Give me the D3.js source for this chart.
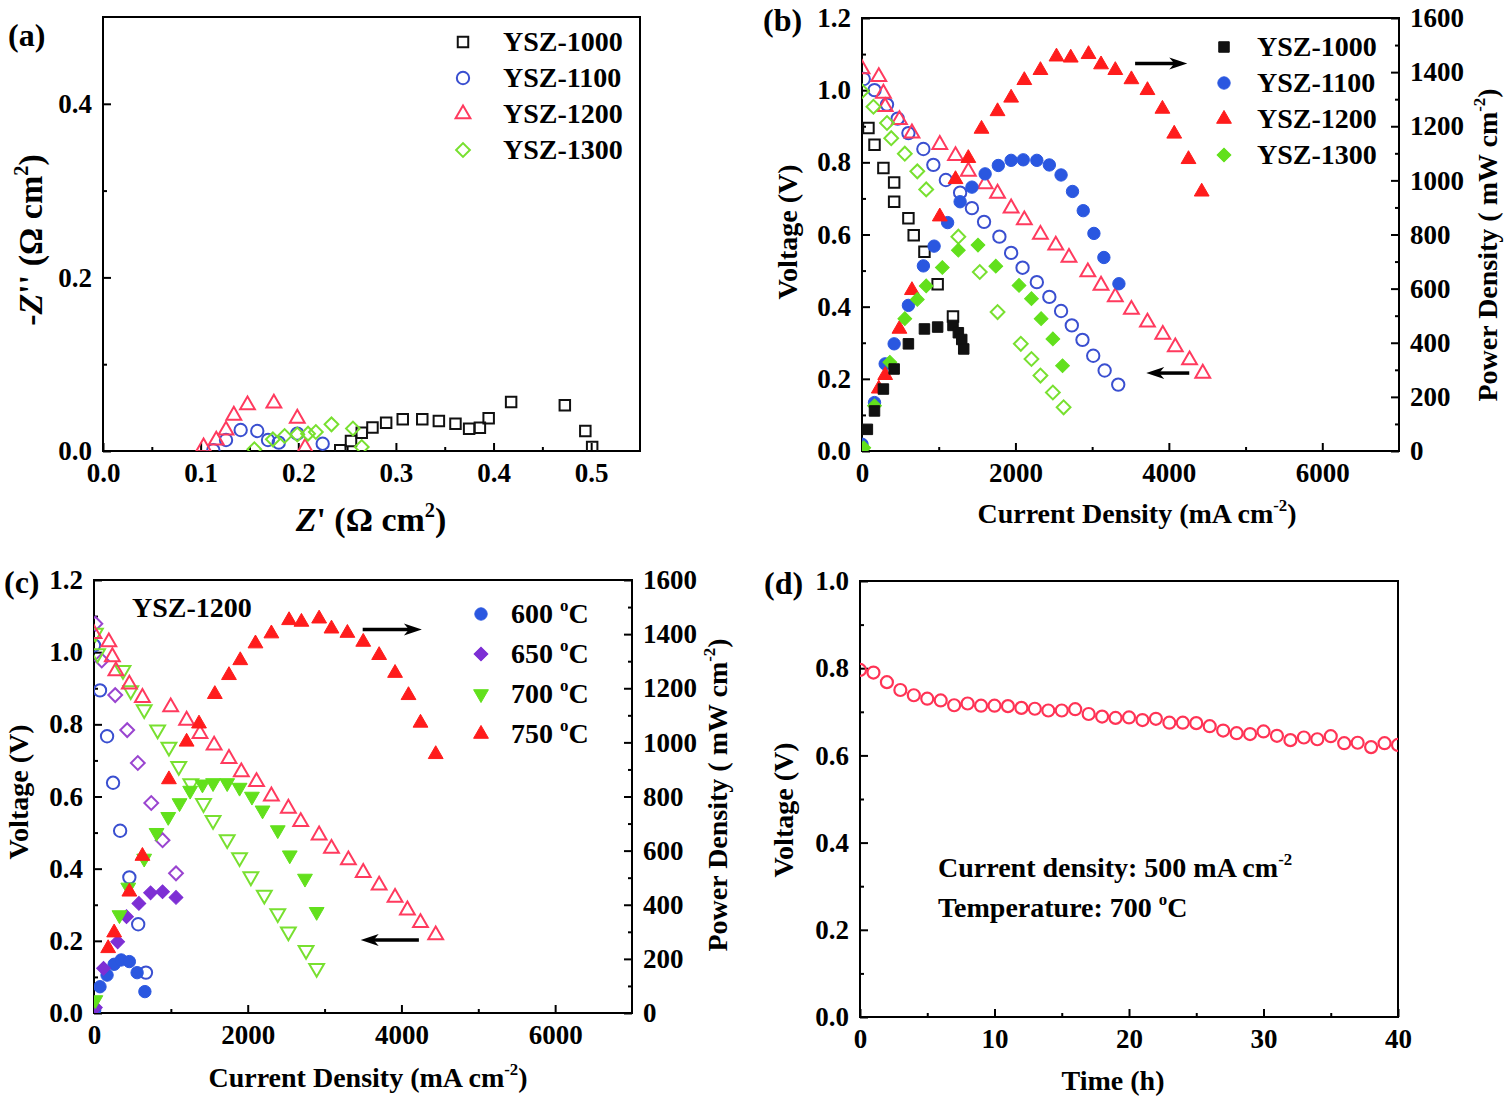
<!DOCTYPE html>
<html><head><meta charset="utf-8">
<script src="https://cdn.jsdelivr.net/npm/d3@7"></script>
<style>
body{margin:0;background:#fff}
svg text{font-family:"Liberation Serif","Times New Roman",serif;font-weight:bold;fill:#000}
</style></head><body>
<svg id="c" width="1506" height="1107" xmlns="http://www.w3.org/2000/svg"></svg>
<script>
// ---------------- Panel (a): impedance spectra ----------------
const a1000Re = [0.243,0.254,0.265,0.276,0.290,0.307,0.327,0.344,0.361,0.375,0.386,0.395,0.418,0.473,0.494,0.501];
const a1000Im = [0.001,0.0115,0.021,0.027,0.0326,0.0365,0.0365,0.0346,0.0315,0.0257,0.0269,0.0376,0.0565,0.0526,0.023,0.0046];
const a1100Re = [0.113,0.126,0.141,0.158,0.169,0.180,0.199,0.225];
const a1100Im = [0.001,0.0127,0.0242,0.023,0.0127,0.0096,0.020,0.0084];
const a1200Re = [0.103,0.116,0.126,0.134,0.148,0.175,0.199,0.207];
const a1200Im = [0.0046,0.0123,0.0238,0.041,0.053,0.055,0.0376,0.004];
const a1300Re = [0.155,0.174,0.186,0.199,0.210,0.218,0.234,0.256,0.265];
const a1300Im = [0.002,0.0134,0.0173,0.019,0.020,0.0219,0.0307,0.026,0.0046];
const aXTicks = [0,0.1,0.2,0.3,0.4,0.5];
const aYTicks = [0,0.2,0.4];
const aLegend = ["YSZ-1000","YSZ-1100","YSZ-1200","YSZ-1300"];

// ---------------- Panel (b): I-V-P of four cells ----------------
const b1000VI = [84,163,279,419,419,605,674,814,986,1186];
const b1000V  = [0.895,0.849,0.784,0.744,0.691,0.645,0.598,0.552,0.462,0.373];
const b1000PI = [70,163,279,419,605,814,986,1186,1256,1300,1326];
const b1000P  = [80,148,229,303,396,451,458,464,437,412,377];
const b1100VI = [23,163,326,465,605,800,930,1093,1279,1433,1591,1791,1944,2093,2279,2442,2595,2735,2874,3014,3163,3340];
const b1100V  = [1.031,1.000,0.960,0.921,0.881,0.837,0.793,0.751,0.716,0.673,0.635,0.594,0.549,0.508,0.468,0.427,0.388,0.348,0.308,0.264,0.223,0.184];
const b1100PI = [0,163,302,419,605,800,940,1116,1279,1433,1605,1777,1944,2102,2279,2442,2595,2744,2884,3023,3153,3349];
const b1100P  = [25,179,322,396,538,684,757,844,921,975,1024,1055,1074,1076,1074,1057,1020,959,888,804,715,618];
const b1200VI = [0,219,279,302,488,651,1014,1219,1386,1605,1767,1944,2116,2326,2526,2698,2944,3116,3302,3512,3721,3921,4084,4270,4442];
const b1200V  = [1.059,1.037,0.991,0.954,0.918,0.881,0.849,0.818,0.775,0.740,0.714,0.673,0.640,0.600,0.570,0.536,0.496,0.459,0.427,0.392,0.357,0.323,0.288,0.252,0.215];
const b1200PI = [219,302,488,651,1014,1219,1386,1558,1767,1944,2116,2326,2535,2721,2953,3116,3302,3512,3721,3916,4070,4256,4428];
const b1200P  = [230,280,451,594,866,1004,1082,1190,1255,1305,1370,1407,1457,1453,1466,1428,1407,1373,1333,1264,1172,1078,958];
const b1300VI = [0,149,326,381,558,721,837,1256,1535,1767,2070,2209,2326,2488,2628];
const b1300V  = [0.997,0.954,0.909,0.867,0.824,0.775,0.725,0.594,0.496,0.385,0.297,0.255,0.209,0.162,0.121];
const b1300PI = [23,163,363,558,721,837,1047,1256,1512,1744,2047,2209,2335,2488,2614];
const b1300P  = [12,167,328,489,560,610,678,742,761,683,612,563,489,414,315];
const bcXTicks = [0,2000,4000,6000];
const bcVTicks = [0,0.2,0.4,0.6,0.8,1.0,1.2];
const bcPTicks = [0,200,400,600,800,1000,1200,1400,1600];

// ---------------- Panel (c): YSZ-1200 at four temperatures ----------------
const c600VI = [0,78,170,248,340,460,575,676];
const c600V  = [1.019,0.894,0.767,0.638,0.505,0.376,0.246,0.112];
const c600PI = [9,78,170,262,354,460,561,662];
const c600P  = [11,97,140,180,196,190,149,79];
const c650VI = [18,101,276,432,570,745,892,1067];
const c650V  = [1.079,0.977,0.881,0.784,0.693,0.582,0.479,0.387];
const c650PI = [18,124,308,423,584,736,892,1067];
const c650P  = [20,165,263,356,405,444,448,427];
const c700VI = [18,46,377,478,653,828,975,1103,1260,1425,1549,1733,1894,2041,2216,2391,2529,2759,2897];
const c700V  = [1.053,0.996,0.950,0.894,0.841,0.785,0.737,0.684,0.636,0.581,0.534,0.481,0.431,0.378,0.327,0.276,0.225,0.174,0.124];
const c700PI = [18,331,446,653,814,966,1113,1251,1411,1549,1733,1894,2055,2193,2391,2547,2745,2897];
const c700P  = [48,362,464,571,666,725,776,822,845,850,850,833,800,749,676,583,497,374];
const c750VI = [0,193,239,285,460,630,998,1205,1379,1563,1756,1917,2115,2308,2529,2690,2929,3090,3310,3503,3710,3917,4078,4248,4446];
const c750V  = [1.051,1.028,0.987,0.948,0.911,0.874,0.848,0.811,0.774,0.742,0.705,0.668,0.641,0.601,0.567,0.530,0.493,0.456,0.424,0.389,0.354,0.320,0.285,0.250,0.216];
const c750PI = [184,262,460,630,975,1205,1366,1572,1756,1903,2101,2308,2538,2699,2929,3090,3297,3503,3710,3917,4092,4248,4446];
const c750P  = [239,297,448,580,863,1002,1069,1178,1248,1303,1365,1402,1451,1445,1457,1420,1404,1371,1322,1256,1174,1072,956];
const cLegend = ["600","650","700","750"];

// ---------------- Panel (d): stability test ----------------
const dTime = [0,1,2,3,4,5,6,7,8,9,10,11,12,13,14,15,16,17,18,19,20,21,22,23,24,25,26,27,28,29,30,31,32,33,34,35,36,37,38,39,40];
const dVolt = [0.796,0.790,0.768,0.750,0.738,0.730,0.726,0.715,0.719,0.714,0.714,0.713,0.709,0.707,0.703,0.703,0.706,0.695,0.689,0.686,0.687,0.681,0.684,0.675,0.675,0.674,0.667,0.657,0.651,0.649,0.655,0.645,0.635,0.641,0.637,0.644,0.628,0.629,0.619,0.628,0.624];
const dXTicks = [0,10,20,30,40];
const dYTicks = [0,0.2,0.4,0.6,0.8,1.0];

// ---------------- drawing ----------------
const svg = d3.select('#c');
const FONT = '"Liberation Serif","Times New Roman",serif';
const TICKFS = 27, TITLEFS = 28;
const COL = {black:'#111', blue:'#2a57e0', blueO:'#3a4fd0', red:'#ff1c1c', redO:'#ff3a5e',
             green:'#62e01c', greenO:'#78e030', purple:'#7d2fd4', purpleO:'#9a45d0', pink:'#ff3355'};

// parts: plain strings, {it:'...'} for italic, {up:'...'} for superscript
function rich(g, x, y, parts, o) {
  o = o || {};
  const fs = o.fs || TITLEFS;
  const t = g.append('text').attr('font-size', fs).attr('text-anchor', o.anchor || 'start');
  if (o.rotate) t.attr('transform', `translate(${x},${y}) rotate(-90)`).attr('dy', '0.35em');
  else t.attr('x', x).attr('y', y);
  let restore = 0;
  parts.forEach(p => {
    if (typeof p === 'string') {
      const s = t.append('tspan').text(p);
      if (restore) { s.attr('dy', restore); restore = 0; }
    } else if (p.up !== undefined) {
      t.append('tspan').attr('font-size', fs * 0.6).attr('dy', -fs * 0.42).text(p.up);
      restore = fs * 0.42;
    } else if (p.it !== undefined) {
      const s = t.append('tspan').attr('font-style', 'italic').text(p.it);
      if (restore) { s.attr('dy', restore); restore = 0; }
    }
  });
  return t;
}

function styleAxis(g) {
  g.select('.domain').remove();
  g.selectAll('line').attr('stroke', '#000').attr('stroke-width', 2);
  g.selectAll('text').attr('font-size', TICKFS).attr('font-family', FONT)
    .attr('font-weight', 'bold').attr('fill', '#000');
}

function panel(id, f, xd, yd, xTicks, xMinor, xFmt, yTicks, yMinor, yFmt, y2d, y2Ticks, y2Minor) {
  const g = svg.append('g');
  const x = d3.scaleLinear().domain(xd).range([f.x0, f.x1]);
  const y = d3.scaleLinear().domain(yd).range([f.y1, f.y0]);
  const y2 = y2d ? d3.scaleLinear().domain(y2d).range([f.y1, f.y0]) : null;
  g.append('clipPath').attr('id', 'clip' + id).append('rect')
    .attr('x', f.x0).attr('y', f.y0).attr('width', f.x1 - f.x0).attr('height', f.y1 - f.y0);
  const bx = g.append('g').attr('transform', `translate(0,${f.y1})`);
  bx.append('g').call(d3.axisBottom(x).tickValues(xTicks).tickFormat(xFmt).tickSizeInner(-8).tickSizeOuter(0).tickPadding(12)).call(styleAxis);
  bx.append('g').call(d3.axisBottom(x).tickValues(xMinor).tickFormat(() => '').tickSizeInner(-4).tickSizeOuter(0)).call(styleAxis);
  const ly = g.append('g').attr('transform', `translate(${f.x0},0)`);
  ly.append('g').call(d3.axisLeft(y).tickValues(yTicks).tickFormat(yFmt).tickSizeInner(-8).tickSizeOuter(0).tickPadding(11)).call(styleAxis);
  ly.append('g').call(d3.axisLeft(y).tickValues(yMinor).tickFormat(() => '').tickSizeInner(-4).tickSizeOuter(0)).call(styleAxis);
  if (y2) {
    const ry = g.append('g').attr('transform', `translate(${f.x1},0)`);
    ry.append('g').call(d3.axisRight(y2).tickValues(y2Ticks).tickFormat(d3.format('d')).tickSizeInner(-8).tickSizeOuter(0).tickPadding(11)).call(styleAxis);
    ry.append('g').call(d3.axisRight(y2).tickValues(y2Minor).tickFormat(() => '').tickSizeInner(-4).tickSizeOuter(0)).call(styleAxis);
  }
  // remove empty minor-tick label nodes
  g.selectAll('.tick text').filter(function () { return !this.textContent; }).remove();
  g.append('rect').attr('x', f.x0).attr('y', f.y0).attr('width', f.x1 - f.x0).attr('height', f.y1 - f.y0)
    .attr('fill', 'none').attr('stroke', '#000').attr('stroke-width', 2);
  const plot = g.append('g').attr('clip-path', `url(#clip${id})`);
  return {g, x, y, y2, plot};
}

const SHAPES = {
  square: {type: d3.symbolSquare, size: 110, rot: 0},
  circle: {type: d3.symbolCircle, size: 120, rot: 0},
  tri:    {type: d3.symbolTriangle, size: 95, rot: 0},
  dtri:   {type: d3.symbolTriangle, size: 95, rot: 180},
  diamond:{type: d3.symbolSquare, size: 95, rot: 45}
};
function symPath(shape) { return d3.symbol().type(SHAPES[shape].type).size(SHAPES[shape].size)(); }

function marks(layer, xs, ys, xs_, ys_, shape, color, open) {
  const pts = xs.map((v, i) => [v, ys[i]]);
  layer.append('g').selectAll('path').data(pts).join('path')
    .attr('d', symPath(shape))
    .attr('transform', d => `translate(${xs_(d[0])},${ys_(d[1])}) rotate(${SHAPES[shape].rot})`)
    .attr('fill', open ? 'none' : color)
    .attr('stroke', color)
    .attr('stroke-width', open ? 2 : 1);
}
function legendSym(g, cx, cy, shape, color, open) {
  g.append('path').attr('d', symPath(shape))
    .attr('transform', `translate(${cx},${cy}) rotate(${SHAPES[shape].rot})`)
    .attr('fill', open ? 'none' : color).attr('stroke', color).attr('stroke-width', open ? 2 : 1);
}
function arrow(g, xa, xb, yy) {
  const dir = xb > xa ? 1 : -1;
  g.append('line').attr('x1', xa).attr('x2', xb - dir * 12).attr('y1', yy).attr('y2', yy)
    .attr('stroke', '#000').attr('stroke-width', 3.5);
  g.append('path').attr('d', `M${xb},${yy} L${xb - dir * 18},${yy - 6} L${xb - dir * 13},${yy} L${xb - dir * 18},${yy + 6} Z`)
    .attr('fill', '#000');
}
const f1 = d3.format('.1f');

// ----- (a)
{
  const P = panel('a', {x0: 103, x1: 640, y0: 17, y1: 451}, [0, 0.55], [0, 0.5],
    aXTicks, [0.05, 0.15, 0.25, 0.35, 0.45], f1, aYTicks, [0.1, 0.3], f1);
  marks(P.plot, a1000Re, a1000Im, P.x, P.y, 'square', COL.black, true);
  marks(P.plot, a1100Re, a1100Im, P.x, P.y, 'circle', COL.blueO, true);
  marks(P.plot, a1200Re, a1200Im, P.x, P.y, 'tri', COL.redO, true);
  marks(P.plot, a1300Re, a1300Im, P.x, P.y, 'diamond', COL.greenO, true);
  const shapes = ['square', 'circle', 'tri', 'diamond'];
  const cols = [COL.black, COL.blueO, COL.redO, COL.greenO];
  aLegend.forEach((s, i) => {
    legendSym(P.g, 463, 42 + 36 * i, shapes[i], cols[i], true);
    rich(P.g, 503, 42 + 36 * i + 9, [s], {fs: 28});
  });
  rich(P.g, 371, 531, [{it: 'Z'}, "' (\u03A9 cm", {up: '2'}, ')'], {anchor: 'middle', fs: 34});
  rich(P.g, 30, 240, ['-', {it: 'Z'}, "'' (\u03A9 cm", {up: '2'}, ')'], {anchor: 'middle', rotate: true, fs: 34});
  rich(P.g, 8, 46, ['(a)'], {fs: 32});
}

// ----- (b)
{
  const P = panel('b', {x0: 862, x1: 1399, y0: 18, y1: 451}, [0, 7000], [0, 1.2],
    bcXTicks, [1000, 3000, 5000], d3.format('d'), bcVTicks, [0.1, 0.3, 0.5, 0.7, 0.9, 1.1], f1,
    [0, 1600], bcPTicks, [100, 300, 500, 700, 900, 1100, 1300, 1500]);
  marks(P.plot, b1000VI, b1000V, P.x, P.y, 'square', COL.black, true);
  marks(P.plot, b1100VI, b1100V, P.x, P.y, 'circle', COL.blueO, true);
  marks(P.plot, b1200VI, b1200V, P.x, P.y, 'tri', COL.redO, true);
  marks(P.plot, b1300VI, b1300V, P.x, P.y, 'diamond', COL.greenO, true);
  marks(P.plot, b1100PI, b1100P, P.x, P.y2, 'circle', COL.blue, false);
  marks(P.plot, b1200PI, b1200P, P.x, P.y2, 'tri', COL.red, false);
  marks(P.plot, b1300PI, b1300P, P.x, P.y2, 'diamond', COL.green, false);
  marks(P.plot, b1000PI, b1000P, P.x, P.y2, 'square', COL.black, false);
  arrow(P.g, P.x(3560), P.x(4240), P.y2(1432));
  arrow(P.g, P.x(4266), P.x(3705), P.y(0.216));
  const shapes = ['square', 'circle', 'tri', 'diamond'];
  const cols = [COL.black, COL.blue, COL.red, COL.green];
  aLegend.forEach((s, i) => {
    legendSym(P.g, 1224, 47 + 36 * i, shapes[i], cols[i], false);
    rich(P.g, 1257, 47 + 36 * i + 9, [s], {fs: 28});
  });
  rich(P.g, 1137, 523, ['Current Density (mA cm', {up: '-2'}, ')'], {anchor: 'middle'});
  rich(P.g, 787, 232, ['Voltage (V)'], {anchor: 'middle', rotate: true});
  rich(P.g, 1487, 245, ['Power Density ( mW cm', {up: '-2'}, ')'], {anchor: 'middle', rotate: true});
  rich(P.g, 763, 31, ['(b)'], {fs: 32});
}

// ----- (c)
{
  const P = panel('c', {x0: 94, x1: 632, y0: 580, y1: 1013}, [0, 7000], [0, 1.2],
    bcXTicks, [1000, 3000, 5000], d3.format('d'), bcVTicks, [0.1, 0.3, 0.5, 0.7, 0.9, 1.1], f1,
    [0, 1600], bcPTicks, [100, 300, 500, 700, 900, 1100, 1300, 1500]);
  marks(P.plot, c600VI, c600V, P.x, P.y, 'circle', COL.blueO, true);
  marks(P.plot, c650VI, c650V, P.x, P.y, 'diamond', COL.purpleO, true);
  marks(P.plot, c700VI, c700V, P.x, P.y, 'dtri', COL.greenO, true);
  marks(P.plot, c750VI, c750V, P.x, P.y, 'tri', COL.redO, true);
  marks(P.plot, c600PI, c600P, P.x, P.y2, 'circle', COL.blue, false);
  marks(P.plot, c650PI, c650P, P.x, P.y2, 'diamond', COL.purple, false);
  marks(P.plot, c700PI, c700P, P.x, P.y2, 'dtri', COL.green, false);
  marks(P.plot, c750PI, c750P, P.x, P.y2, 'tri', COL.red, false);
  arrow(P.g, P.x(3496), P.x(4266), P.y2(1417));
  arrow(P.g, P.x(4227), P.x(3470), P.y(0.202));
  const shapes = ['circle', 'diamond', 'dtri', 'tri'];
  const cols = [COL.blue, COL.purple, COL.green, COL.red];
  cLegend.forEach((s, i) => {
    legendSym(P.g, 481, 614 + 40 * i, shapes[i], cols[i], false);
    rich(P.g, 511, 614 + 40 * i + 9, [s + ' ', {up: 'o'}, 'C'], {fs: 28});
  });
  rich(P.g, 132, 617, ['YSZ-1200'], {fs: 28});
  rich(P.g, 368, 1087, ['Current Density (mA cm', {up: '-2'}, ')'], {anchor: 'middle'});
  rich(P.g, 18, 792, ['Voltage (V)'], {anchor: 'middle', rotate: true});
  rich(P.g, 717, 795, ['Power Density ( mW cm', {up: '-2'}, ')'], {anchor: 'middle', rotate: true});
  rich(P.g, 4, 593, ['(c)'], {fs: 32});
}

// ----- (d)
{
  const P = panel('d', {x0: 860, x1: 1398, y0: 581, y1: 1017}, [0, 40], [0, 1.0],
    dXTicks, [5, 15, 25, 35], d3.format('d'), dYTicks, [0.1, 0.3, 0.5, 0.7, 0.9], f1);
  P.plot.append('g').selectAll('circle').data(dTime.map((t, i) => [t, dVolt[i]])).join('circle')
    .attr('cx', d => P.x(d[0])).attr('cy', d => P.y(d[1])).attr('r', 6)
    .attr('fill', 'none').attr('stroke', COL.pink).attr('stroke-width', 2.2);
  rich(P.g, 938, 877, ['Current density: 500 mA cm', {up: '-2'}], {fs: 28});
  rich(P.g, 938, 917, ['Temperature: 700 ', {up: 'o'}, 'C'], {fs: 28});
  rich(P.g, 1113, 1090, ['Time (h)'], {anchor: 'middle'});
  rich(P.g, 783, 810, ['Voltage (V)'], {anchor: 'middle', rotate: true});
  rich(P.g, 764, 594, ['(d)'], {fs: 32});
}
</script>
</body></html>
